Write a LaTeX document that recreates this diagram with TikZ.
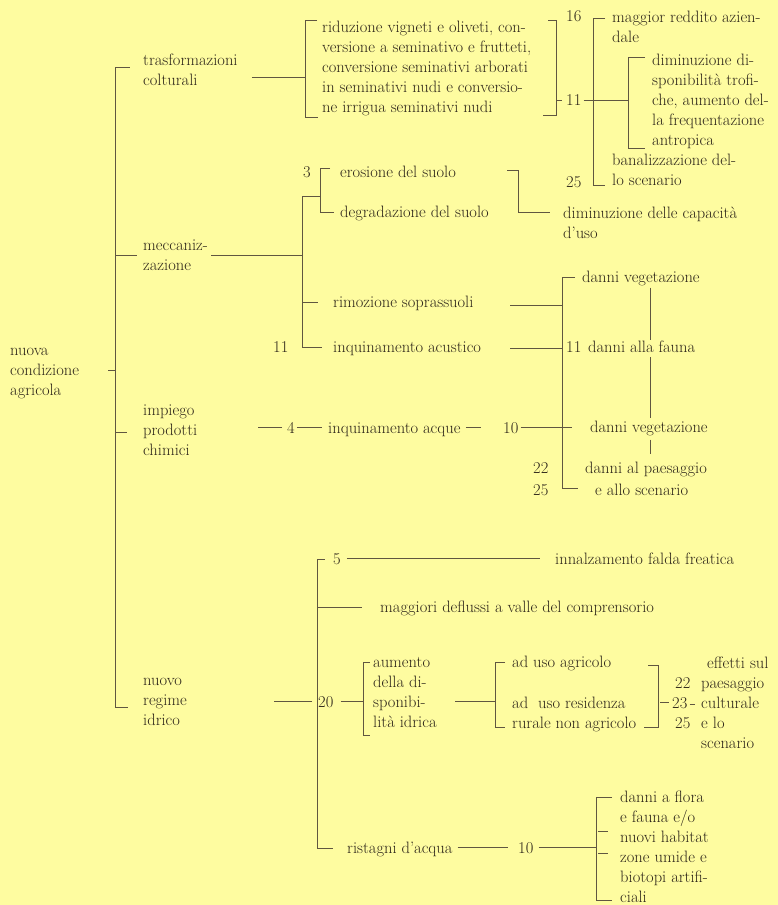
\documentclass[tikz,border=0pt]{standalone}
\usepackage{fontspec}
\usepackage{xcolor}
\usepackage{tikz}

\definecolor{paper}{RGB}{254,252,160}
\definecolor{ink}{RGB}{46,38,26}
\definecolor{rule}{RGB}{96,86,64}

\begin{document}
\begin{tikzpicture}[x=1pt, y=-1pt,
    txt/.style={anchor=base west, inner sep=0pt, align=left, text=ink, font=\fontsize{16.5}{20}\selectfont},
    ln/.style={draw=rule, line width=0.7pt}]
    % Page
    \fill[paper] (0,0) rectangle (778,905);
    \useasboundingbox (0,0) rectangle (778,905);

    % Causes (anchored on the baseline of the last line)
    \node[txt] (root) at (10,395) {nuova\\condizione\\agricola};
    \node[txt] (trasf) at (143,85) {trasformazioni\\colturali};
    \node[txt] (mecc) at (143,270) {meccaniz-\\zazione};
    \node[txt] (chim) at (143,455) {impiego\\prodotti\\chimici};
    \node[txt] (idrico) at (143,725) {nuovo\\regime\\idrico};

    % Trasformazioni colturali
    \node[txt] (riduz) at (322,112) {riduzione vigneti e oliveti, con-\\versione a seminativo e frutteti,\\conversione seminativi arborati\\in seminativi nudi e conversio-\\ne irrigua seminativi nudi};
    \node[txt] (n16) at (566,21) {16};
    \node[txt] (n11a) at (566,105) {11};
    \node[txt] (n25a) at (566,187) {25};
    \node[txt] (maggior) at (612,42) {maggior reddito azien-\\dale};
    \node[txt] (diminuz) at (652,145) {diminuzione di-\\sponibilità trofi-\\che, aumento del-\\la frequentazione\\antropica};
    \node[txt] (banal) at (612,185) {banalizzazione del-\\lo scenario};

    % Meccanizzazione
    \node[txt] (n3) at (303,177) {3};
    \node[txt] (erosione) at (340,177) {erosione del suolo};
    \node[txt] (degrad) at (340,217) {degradazione del suolo};
    \node[txt] (capac) at (563,238) {diminuzione delle capacità\\d'uso};
    \node[txt] (rimoz) at (333,307) {rimozione soprassuoli};
    \node[txt] (n11b) at (273,352) {11};
    \node[txt] (acust) at (333,352) {inquinamento acustico};
    \node[txt] (dveg1) at (582,282) {danni vegetazione};
    \node[txt] (n11c) at (566,352) {11};
    \node[txt] (fauna) at (588,352) {danni alla fauna};

    % Impiego prodotti chimici
    \node[txt] (n4) at (287,433) {4};
    \node[txt] (acque) at (328,433) {inquinamento acque};
    \node[txt] (n10a) at (503,433) {10};
    \node[txt] (dveg2) at (590,432) {danni vegetazione};
    \node[txt] (paes) at (585,473) {danni al paesaggio};
    \node[txt] (scen) at (595,495) {e allo scenario};
    \node[txt] (n22a) at (533,473) {22};
    \node[txt] (n25b) at (533,495) {25};

    % Nuovo regime idrico
    \node[txt] (n5) at (333,564) {5};
    \node[txt] (falda) at (555,564) {innalzamento falda freatica};
    \node[txt] (defl) at (380,612) {maggiori deflussi a valle del comprensorio};
    \node[txt] (n20) at (318,707) {20};
    \node[txt] (aumento) at (373,727) {aumento\\della di-\\sponibi-\\lità idrica};
    \node[txt] (agric) at (512,667) {ad uso agricolo};
    \node[txt] (resid) at (512,728) {ad\ \ uso residenza\\rurale non agricolo};
    \node[txt] (n22b) at (675,688) {22};
    \node[txt] (n23) at (672,708) {23};
    \node[txt] (n25c) at (675,728) {25};
    \node[txt] (effetti) at (707,668) {effetti sul};
    \node[txt] (paescult) at (701,748) {paesaggio\\culturale\\e lo\\scenario};
    \node[txt] (ristagni) at (347,853) {ristagni d'acqua};
    \node[txt] (n10b) at (518,853) {10};
    \node[txt] (flora) at (620,902) {danni a flora\\e fauna e/o\\nuovi habitat\\zone umide e\\biotopi artifi-\\ciali};

    % Junctions
    \coordinate (t0) at (115,370);
    \coordinate (t1) at (115,67);
    \coordinate (t2) at (115,255);
    \coordinate (t3) at (115,432);
    \coordinate (t4) at (115,707);
    \coordinate (a1) at (305,77);
    \coordinate (a1t) at (305,20);
    \coordinate (a1b) at (305,117);
    \coordinate (a2t) at (556,20);
    \coordinate (a2m) at (556,100);
    \coordinate (a2b) at (556,115);
    \coordinate (b2t) at (593,18);
    \coordinate (b2b) at (593,185);
    \coordinate (b3t) at (628,57);
    \coordinate (b3m) at (628,100);
    \coordinate (b3b) at (628,148);
    \coordinate (m1) at (302,255);
    \coordinate (m1t) at (302,196);
    \coordinate (m1r) at (302,302);
    \coordinate (m1b) at (302,347);
    \coordinate (m2t) at (320,168);
    \coordinate (m2b) at (320,212);
    \coordinate (m3t) at (518,170);
    \coordinate (m3b) at (518,212);
    \coordinate (v1t) at (562,277);
    \coordinate (v1r) at (562,305);
    \coordinate (v1a) at (562,348);
    \coordinate (v1b) at (562,488);
    \coordinate (fx) at (650,0);
    \coordinate (rt) at (317,559);
    \coordinate (rm) at (317,607);
    \coordinate (rb) at (317,848);
    \coordinate (s1t) at (363,662);
    \coordinate (s1b) at (363,735);
    \coordinate (s2t) at (495,662);
    \coordinate (s2b) at (495,727);
    \coordinate (s3t) at (658,665);
    \coordinate (s3b) at (658,727);
    \coordinate (f1t) at (596,797);
    \coordinate (f1a) at (596,831);
    \coordinate (f1c) at (596,853);
    \coordinate (f1b) at (596,900);

    % Trunk
    \draw[ln] (t1) -- (t4) -- ++(13,0);
    \draw[ln] (t1) -- ++(15,0);
    \draw[ln] (t2) -- ++(22,0);
    \draw[ln] (t3) -- ++(12,0);
    \draw[ln] (t0) -- ++(-7,0);

    % Connections: trasformazioni colturali
    \draw[ln] ([xshift=14pt]trasf.east |- a1) -- (a1);
    \draw[ln] ([xshift=12pt]a1t) -- (a1t) -- (a1b) -- ++(13,0);
    \draw[ln] ([xshift=-8pt]a2t) -- (a2t) -- (a2b) -- ++(-13,0);
    \draw[ln] (a2m) -- ++(6,0);
    \draw[ln] ([xshift=2pt]n11a.east |- b3m) -- (b3m);
    \draw[ln] ([xshift=12pt]b2t) -- (b2t) -- (b2b) -- ++(12,0);
    \draw[ln] ([xshift=17pt]b3t) -- (b3t) -- (b3b) -- ++(17,0);

    % Connections: meccanizzazione
    \draw[ln] ([xshift=3pt]mecc.east |- m1) -- (m1);
    \draw[ln] (m1t) -- (m1b) -- ++(20,0);
    \draw[ln] (m1t) -- (m1t -| m2t);
    \draw[ln] (m1r) -- ++(16,0);
    \draw[ln] ([xshift=10pt]m2t) -- (m2t) -- (m2b) -- ++(14,0);
    \draw[ln] ([xshift=-11pt]m3t) -- (m3t) -- (m3b) -- ([xshift=-13pt]capac.west |- m3b);
    \draw[ln] ([xshift=13pt]v1t) -- (v1t) -- (v1b) -- ++(16,0);
    \draw[ln] (v1r) -- ++(-52,0);
    \draw[ln] (v1a) -- ++(-52,0);
    \draw[ln, shorten <=2pt] (dveg1.south -| fx) -- (fauna.north -| fx);
    \draw[ln, shorten <=5pt, shorten >=2pt] (fauna.south -| fx) -- (dveg2.north -| fx);
    \draw[ln, shorten <=4pt, shorten >=7pt] (dveg2.south -| fx) -- (paes.north -| fx);

    % Connections: impiego prodotti chimici
    \draw[ln] ([xshift=-5pt]n4.west) -- ++(-24,0);
    \draw[ln] ([xshift=2pt]n4.east) -- ([xshift=-6pt]acque.west |- n4.east);
    \draw[ln] ([xshift=5pt]acque.east |- n4.east) -- ++(15,0);
    \draw[ln] ([xshift=2pt]n10a.east) -- ([xshift=10pt]v1t |- n10a.east);

    % Connections: nuovo regime idrico
    \draw[ln] (rt) -- (rb) -- ++(16,0);
    \draw[ln] (rt) -- ++(8,0);
    \draw[ln] ([xshift=6pt]n5.east) -- ([xshift=-15pt]falda.west |- n5.east);
    \draw[ln] (rm) -- ++(45,0);
    \draw[ln] ([xshift=-6pt]n20.west) -- ++(-38,0);
    \draw[ln] ([xshift=7pt]n20.east) -- (s1t |- n20.east);
    \draw[ln] ([xshift=7pt]s1t) -- (s1t) -- (s1b) -- ++(7,0);
    \draw[ln] (s2t |- n20.east) -- ++(-40,0);
    \draw[ln] ([xshift=10pt]s2t) -- (s2t) -- (s2b) -- ++(10,0);
    \draw[ln] ([xshift=-10pt]s3t) -- (s3t) -- (s3b) -- ++(-14,0);
    \draw[ln] ([xshift=2pt]s3t |- n23.west) -- ([xshift=-3pt]n23.west);
    \draw[ln] ([xshift=2pt,yshift=-2pt]n23.east) -- ++(5,0);
    \draw[ln] ([xshift=5pt]ristagni.east |- n10b.west) -- ([xshift=-10pt]n10b.west);
    \draw[ln] ([xshift=5pt]n10b.east) -- (f1t |- n10b.east);
    \draw[ln] ([xshift=16pt]f1t) -- (f1t) -- (f1b) -- ++(16,0);
    \draw[ln] ([xshift=2pt]f1a) -- ++(10,0);
    \draw[ln] ([xshift=2pt]f1c) -- ++(10,0);
\end{tikzpicture}
\end{document}
